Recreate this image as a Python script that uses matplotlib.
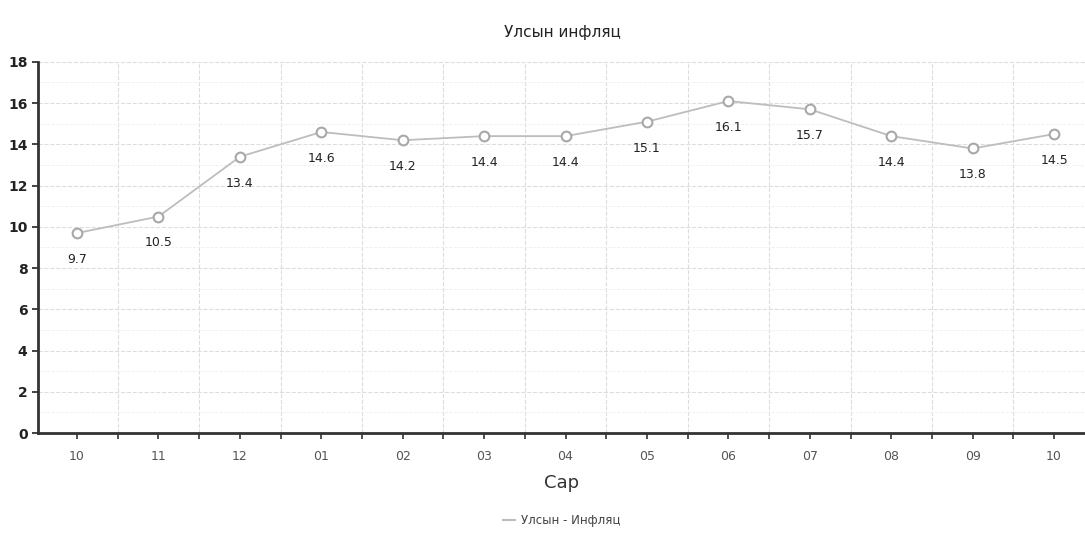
import matplotlib
matplotlib.use("Agg")
import matplotlib.pyplot as plt
from matplotlib.ticker import MultipleLocator, FixedLocator
from matplotlib.lines import Line2D
import numpy as np

months = ["10", "11", "12", "01", "02", "03", "04", "05", "06", "07", "08", "09", "10"]
inflation = [9.7, 10.5, 13.4, 14.6, 14.2, 14.4, 14.4, 15.1, 16.1, 15.7, 14.4, 13.8, 14.5]
title = "Улсын инфляц"
xlabel = "Сар"
series_name = "Улсын - Инфляц"

plt.rcParams['font.family'] = ['DejaVu Sans']
fig = plt.figure(figsize=(10.85, 5.38), dpi=100)
ax = fig.add_axes([0.035, 0.195, 0.965, 0.69])

x = np.arange(len(months))
line, = ax.plot(x, inflation, color="#bdbdbd", lw=1.3, marker="o", ms=7,
                markerfacecolor="white", markeredgecolor="#a8a8a8", markeredgewidth=1.5,
                zorder=3)
for xi, v in zip(x, inflation):
    ax.annotate(f"{v}", (xi, v), xytext=(0, -19), textcoords="offset points",
                ha="center", va="center", fontsize=9, color="#222222")

ax.set_xlim(-0.48, len(months) - 1 + 0.38)
ax.set_ylim(0, 18)
ax.set_xticks(x)
ax.set_xticklabels(months, fontsize=9, color="#555555")
ax.xaxis.set_minor_locator(FixedLocator(np.arange(-0.5, len(months), 1.0)))
ax.yaxis.set_major_locator(MultipleLocator(2))
ax.yaxis.set_minor_locator(MultipleLocator(1))
ax.tick_params(axis="y", labelsize=10, colors="#222222", length=4, width=1.2)
for lab in ax.get_yticklabels():
    lab.set_fontweight("bold")
ax.tick_params(axis="x", length=4, width=1.2, color="#333333", pad=8)
ax.tick_params(axis="x", which="minor", length=4, width=1.2, color="#333333")
ax.tick_params(axis="y", which="minor", length=0)

ax.grid(True, which="minor", axis="x", color="#dddddd", lw=0.8, ls="--")
ax.grid(True, which="major", axis="y", color="#dddddd", lw=0.8, ls="--")
ax.grid(True, which="minor", axis="y", color="#eeeeee", lw=0.6, ls="--")
ax.set_axisbelow(True)

for s in ["top", "right"]:
    ax.spines[s].set_visible(False)
for s in ["left", "bottom"]:
    ax.spines[s].set_color("#333333")
    ax.spines[s].set_linewidth(2)

fig.text(0.518, 0.94, title, ha="center", va="center", fontsize=11, color="#222222")
ax.set_xlabel(xlabel, fontsize=13, color="#333333", labelpad=8)
handle = Line2D([], [], color="#bdbdbd", lw=1.5)
fig.legend(handles=[handle], labels=[series_name], loc="center", bbox_to_anchor=(0.518, 0.032),
           frameon=False, fontsize=8.5, handlelength=1.0, handletextpad=0.5, labelcolor="#444444")

fig.savefig("out.png", dpi=100)
